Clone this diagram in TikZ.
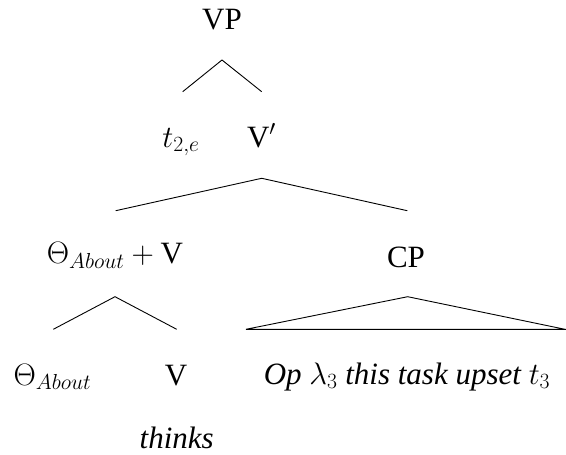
\documentclass[tikz,border=0pt]{standalone}
\usepackage{fix-cm}
\usepackage{fontspec}
\setmainfont{Liberation Serif}
\begin{document}
\begin{tikzpicture}[x=1pt,y=-1pt,
  lab/.style={anchor=base,inner sep=0pt,font=\fontsize{31}{36}\selectfont},
  branch/.style={line width=0.9pt,line join=miter}]
\useasboundingbox (0,0) rectangle (566,455);
% labels
\node[lab] (vp) at (222,29) {VP};
\node[lab] (t) at (181,147) {$t_{2,e}$};
\node[lab] (vbar) at (261.5,147) {V$'$};
\node[lab] (thv) at (115,263.5) {$\Theta_{About}+{}$V};
\node[lab] (cp) at (406,267.7) {CP};
\node[lab] (theta) at (52.5,385) {$\Theta_{About}$};
\node[lab] (v) at (176,385) {V};
\node[lab] (op) at (407,384) {\textit{Op $\lambda_3$ this task upset $t_3$}};
\node[lab] (thinks) at (176.7,448.5) {\textit{thinks}};
% branch points
\coordinate (vpA) at (222,60);
\coordinate (vpL) at (182.7,91.7);
\coordinate (vpR) at (261.7,91.7);
\coordinate (vbA) at (261.7,178.3);
\coordinate (vbL) at (115.7,210.7);
\coordinate (vbR) at (407.3,210.7);
\coordinate (tvA) at (115,296.7);
\coordinate (tvL) at (53.3,329.3);
\coordinate (tvR) at (176.7,329.3);
\coordinate (cpA) at (407.7,296.7);
\coordinate (cpL) at (246,329.3);
\coordinate (cpR) at (565,329.3);
% branches
\draw[branch] (vpL) -- (vpA) -- (vpR);
\draw[branch] (vbL) -- (vbA) -- (vbR);
\draw[branch] (tvL) -- (tvA) -- (tvR);
\draw[branch] (cpL) -- (cpA) -- (cpR) -- cycle;
\end{tikzpicture}
\end{document}
